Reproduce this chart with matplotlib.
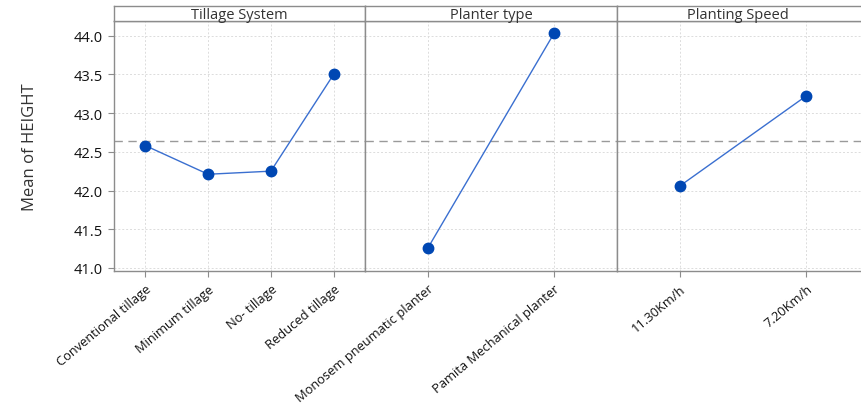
import matplotlib
matplotlib.use("Agg")
import matplotlib.pyplot as plt

plt.rcParams['font.family'] = ['Open Sans', 'DejaVu Sans']

# 数据
tillage_levels = ["Conventional tillage", "Minimum tillage", "No- tillage", "Reduced tillage"]
tillage_means = [42.58, 42.21, 42.25, 43.50]
planter_levels = ["Monosem pneumatic planter", "Pamita Mechanical planter"]
planter_means = [41.26, 44.03]
speed_levels = ["11.30Km/h", "7.20Km/h"]
speed_means = [42.06, 43.22]
panel_titles = ["Tillage System", "Planter type", "Planting Speed"]
grand_mean = 42.64
y_ticks = [41.0, 41.5, 42.0, 42.5, 43.0, 43.5, 44.0]

W, H = 862, 410
fig = plt.figure(figsize=(W / 100, H / 100), dpi=100)

# 面板像素边界
panel_x = [(114, 365), (365, 617), (617, 869)]
top, bottom, strip_top = 22, 272, 7

groups = [(tillage_levels, tillage_means), (planter_levels, planter_means), (speed_levels, speed_means)]
edge = "#8c8c8c"

for i, ((x0, x1), (levels, means), title) in enumerate(zip(panel_x, groups, panel_titles)):
    ax = fig.add_axes([x0 / W, 1 - bottom / H, (x1 - x0) / W, (bottom - top) / H])
    xs = list(range(len(levels)))
    ax.plot(xs, means, color="#3a6fd0", lw=1.0, marker="o", ms=7.5,
            mfc="#0047b3", mec="#0047b3", zorder=3)
    ax.axhline(grand_mean, color="#9a9a9a", lw=1.0, ls=(0, (6, 4)), zorder=2)
    ax.set_xlim(-0.5, len(levels) - 0.5)
    ax.set_ylim(40.96, 44.19)
    ax.set_xticks(xs)
    ax.set_xticklabels(levels, rotation=40, ha="right", rotation_mode="anchor",
                       fontsize=9.3, color="#111111")
    ax.set_yticks(y_ticks)
    ax.grid(True, color="#dcdcdc", lw=0.7, ls=(0, (2, 2)))
    ax.set_axisbelow(True)
    for s in ax.spines.values():
        s.set_color(edge)
        s.set_linewidth(1.0)
    ax.tick_params(axis="x", length=4, color=edge, pad=4)
    if i == 0:
        ax.set_yticklabels([f"{v:.1f}" for v in y_ticks], fontsize=10.5, color="#111111")
        ax.tick_params(axis="y", length=4, color=edge, pad=4)
        ax.set_ylabel("Mean of HEIGHT", fontsize=12, color="#333333", labelpad=26)
    else:
        ax.tick_params(axis="y", length=0, labelleft=False)

    # 标题条
    sax = fig.add_axes([x0 / W, 1 - top / H, (x1 - x0) / W, (top - strip_top) / H])
    sax.set_xticks([])
    sax.set_yticks([])
    for s in sax.spines.values():
        s.set_color(edge)
        s.set_linewidth(1.0)
    sax.text(0.5 if i < 2 else 0.48, 0.42, title, ha="center", va="center",
             fontsize=10.5, color="#333333", transform=sax.transAxes)

fig.savefig("out.png", dpi=100)
